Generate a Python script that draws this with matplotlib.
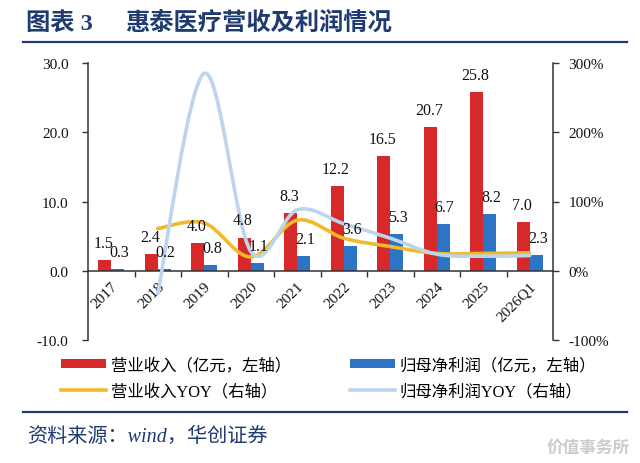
import numpy as np
import matplotlib
matplotlib.use('Agg')
import matplotlib.pyplot as plt
from matplotlib.path import Path
from matplotlib.patches import PathPatch, Patch
from matplotlib.lines import Line2D

categories = ['2017', '2018', '2019', '2020', '2021', '2022', '2023', '2024', '2025', '2026Q1']
revenue = [1.5, 2.4, 4.0, 4.8, 8.3, 12.2, 16.5, 20.7, 25.8, 7.0]
profit = [0.3, 0.2, 0.8, 1.1, 2.1, 3.6, 5.3, 6.7, 8.2, 2.3]
revenue_yoy = [None, 61, 69, 20, 73, 47, 35, 25, 25, 26]
profit_yoy = [None, -33, 285, 28, 88, 68, 47, 24, 21, 22]
left_ticks = [-10, 0, 10, 20, 30]
right_ticks = [-100, 0, 100, 200, 300]
legend_labels = ['营业收入（亿元，左轴）', '营业收入YOY（右轴）',
                 '归母净利润（亿元，左轴）', '归母净利润YOY（右轴）']

RED = '#D7282A'
BLUE = '#2E74C4'
GOLD = '#F0BA2C'
LBLUE = '#BDD5EC'
NAVY = '#1F3B70'
AXC = '#333333'

SERIF = 'Liberation Serif'
CJK = 'Noto Sans CJK SC'
plt.rcParams['font.family'] = [SERIF, CJK]

W, H = 640, 464
fig = plt.figure(figsize=(6.4, 4.64), dpi=100)
fig.patch.set_facecolor('white')
ax = fig.add_axes([88 / W, 1 - 341 / H, (553 - 88) / W, (341 - 64) / H])
ax2 = ax.twinx()

x = np.arange(len(categories))
bw = 0.28
ax.bar(x - bw / 2, revenue, bw, color=RED, zorder=2)
ax.bar(x + bw / 2, profit, bw, color=BLUE, zorder=2)
ax.set_xlim(-0.5, len(categories) - 0.5)
ax.set_ylim(left_ticks[0], left_ticks[-1])
ax2.set_ylim(right_ticks[0], right_ticks[-1])


def smooth_path(xs, ys):
    pts = np.column_stack([xs, ys]).astype(float)
    n = len(pts)
    verts = [pts[0]]
    codes = [Path.MOVETO]
    for i in range(n - 1):
        p0 = pts[i - 1] if i > 0 else pts[i]
        p1 = pts[i]
        p2 = pts[i + 1]
        p3 = pts[i + 2] if i + 2 < n else pts[i + 1]
        c1 = p1 + (p2 - p0) / 6.0
        c2 = p2 - (p3 - p1) / 6.0
        verts += [c1, c2, p2]
        codes += [Path.CURVE4] * 3
    return Path(verts, codes)


for series, col in [(revenue_yoy, GOLD), (profit_yoy, LBLUE)]:
    xs = [xi for xi, v in zip(x, series) if v is not None]
    ys = [v for v in series if v is not None]
    patch = PathPatch(smooth_path(xs, ys), fill=False, edgecolor=col, lw=2.6,
                      capstyle='round', joinstyle='round', zorder=3)
    ax2.add_patch(patch)

# data labels (drawn above lines)
for i in x:
    ax2.annotate(f'{revenue[i]:.1f}', xy=(x[i] - bw / 2, revenue[i]), xycoords=ax.transData,
                 xytext=(-1, 6.5), textcoords='offset points', ha='center', va='bottom',
                 fontsize=11.5, family=SERIF, color='#111111', zorder=6)
    ax2.annotate(f'{profit[i]:.1f}', xy=(x[i] + bw / 2, profit[i]), xycoords=ax.transData,
                 xytext=(1, 6.5), textcoords='offset points', ha='center', va='bottom',
                 fontsize=11.5, family=SERIF, color='#111111', zorder=6)

# spines
for s in ['top', 'right']:
    ax.spines[s].set_visible(False)
ax.spines['bottom'].set_position(('data', 0))
ax.spines['left'].set_color(AXC)
ax.spines['bottom'].set_color(AXC)
ax.spines['left'].set_linewidth(1.1)
ax.spines['bottom'].set_linewidth(1.1)
for s in ['top', 'bottom', 'left']:
    ax2.spines[s].set_visible(False)
ax2.spines['right'].set_color(AXC)
ax2.spines['right'].set_linewidth(1.1)

ax.set_yticks(left_ticks)
ax.set_yticklabels([f'{v:.1f}' for v in left_ticks])
ax.tick_params(axis='y', direction='out', length=4, width=1, color=AXC, pad=10,
               labelsize=11, labelcolor='#111111')
ax2.set_yticks(right_ticks)
ax2.set_yticklabels([f'{v}%' for v in right_ticks])
ax2.tick_params(axis='y', direction='out', length=4, width=1, color=AXC, pad=7,
                labelsize=11, labelcolor='#111111')

ax.set_xticks(x)
ax.set_xticklabels(categories)
ax.set_xticks(x[:-1] + 0.5, minor=True)
ax.tick_params(axis='x', which='major', length=0, pad=6, labelsize=11, labelcolor='#111111')
ax.tick_params(axis='x', which='minor', length=4, width=1, color=AXC, direction='out')
for lab in ax.get_xticklabels():
    lab.set_rotation(45)
    lab.set_ha('right')
    lab.set_va('top')
    lab.set_rotation_mode('anchor')
    lab.set_family(SERIF)
for lab in ax.get_yticklabels() + ax2.get_yticklabels():
    lab.set_family(SERIF)

# legends
h_red = Patch(facecolor=RED, edgecolor='none')
h_blue = Patch(facecolor=BLUE, edgecolor='none')
h_gold = Line2D([], [], color=GOLD, lw=2.6)
h_lblue = Line2D([], [], color=LBLUE, lw=2.6)
common = dict(loc='upper left', frameon=False, handlelength=2.75,
              handleheight=0.5, labelspacing=0.62, handletextpad=0.3,
              borderpad=0, borderaxespad=0, prop={'family': [SERIF, CJK], 'size': 11.8})
fig.legend([h_red, h_gold], legend_labels[:2], bbox_to_anchor=(61 / W, 1 - 358 / H), **common)
fig.legend([h_blue, h_lblue], legend_labels[2:], bbox_to_anchor=(350 / W, 1 - 358 / H), **common)

# title, rules, source
fig.text(26 / W, 1 - 23 / H, '图表 3', fontsize=17.5, weight='bold', color=NAVY,
         va='center', ha='left', family=[SERIF, CJK])
fig.text(125 / W, 1 - 23 / H, '惠泰医疗营收及利润情况', fontsize=17.5, weight='bold',
         color=NAVY, va='center', ha='left', family=[CJK])
fig.add_artist(Line2D([23 / W, 627 / W], [1 - 43 / H] * 2, color=NAVY, lw=1.6))
fig.add_artist(Line2D([23 / W, 627 / W], [1 - 413 / H] * 2, color=NAVY, lw=1.6))
fig.text(27 / W, 1 - 437 / H, '资料来源：wind，华创证券', fontsize=14.5, color=NAVY,
         style='italic', va='center', ha='left', family=[SERIF, CJK])
fig.text(547 / W, 1 - 448 / H, '价值事务所', fontsize=12, color='#cccccc', weight='bold',
         va='center', ha='left', family=[CJK])

fig.savefig('out.png', dpi=100)
